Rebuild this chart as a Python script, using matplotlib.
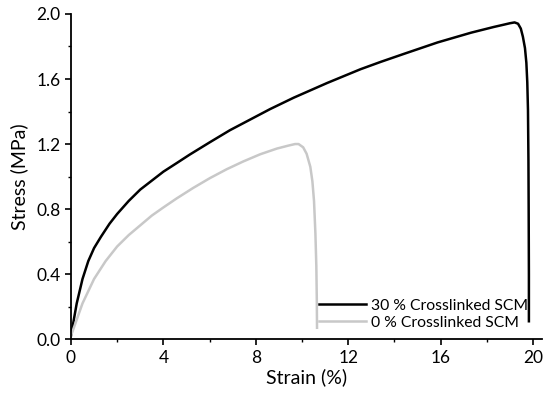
import matplotlib
matplotlib.use("Agg")
import matplotlib.pyplot as plt
from matplotlib.ticker import MultipleLocator

plt.rcParams["font.family"] = ["Lato", "DejaVu Sans"]

# 30 % crosslinked SCM (strain %, stress MPa)
strain_30 = [0.0, 0.1, 0.25, 0.5, 0.75, 1.0, 1.3, 1.67, 2.0, 2.5, 3.0, 3.5,
             4.0, 4.6, 5.14, 6.0, 6.88, 7.75, 8.62, 9.64, 11.08, 12.53, 13.4,
             14.42, 15.87, 17.32, 18.3, 18.76, 19.0, 19.2, 19.35, 19.47, 19.56,
             19.65, 19.71, 19.75, 19.78, 19.80, 19.81, 19.82, 19.82]
stress_30 = [0.02, 0.10, 0.22, 0.37, 0.48, 0.56, 0.63, 0.71, 0.77, 0.85, 0.92,
             0.975, 1.03, 1.085, 1.135, 1.21, 1.285, 1.35, 1.415, 1.485, 1.575,
             1.66, 1.705, 1.755, 1.825, 1.885, 1.92, 1.935, 1.943, 1.948, 1.94,
             1.91, 1.86, 1.79, 1.70, 1.58, 1.41, 1.10, 0.80, 0.40, 0.11]

# 0 % crosslinked SCM
strain_0 = [0.0, 0.25, 0.5, 1.0, 1.5, 2.0, 2.5, 3.0, 3.5, 4.0, 4.57, 5.29,
            6.01, 6.74, 7.46, 8.19, 8.91, 9.4, 9.7, 9.85, 10.05, 10.2, 10.36,
            10.45, 10.52, 10.58, 10.62, 10.64, 10.65]
stress_0 = [0.02, 0.12, 0.22, 0.37, 0.48, 0.57, 0.64, 0.70, 0.76, 0.81, 0.865,
            0.93, 0.99, 1.045, 1.093, 1.137, 1.172, 1.19, 1.20, 1.20, 1.18, 1.14,
            1.06, 0.97, 0.85, 0.65, 0.45, 0.25, 0.07]

fig = plt.figure(figsize=(5.5, 3.99), dpi=100)
ax = fig.add_axes([0.129, 0.150, 0.857, 0.815])

ax.plot(strain_30, stress_30, color="black", lw=1.8, label="30 % Crosslinked SCM")
ax.plot(strain_0, stress_0, color="#c8c8c8", lw=1.8, label="0 % Crosslinked SCM")

ax.set_xlim(0, 20.4)
ax.set_ylim(0, 2.0)
ax.xaxis.set_major_locator(MultipleLocator(4))
ax.xaxis.set_minor_locator(MultipleLocator(2))
ax.yaxis.set_major_locator(MultipleLocator(0.4))
ax.yaxis.set_minor_locator(MultipleLocator(0.2))
ax.yaxis.set_major_formatter(lambda v, p: f"{v:.1f}")

for s in ["top", "right"]:
    ax.spines[s].set_visible(False)
for s in ["left", "bottom"]:
    ax.spines[s].set_linewidth(1.3)
ax.tick_params(which="major", direction="out", length=4, width=1.2, labelsize=12.5)
ax.tick_params(which="minor", direction="out", length=2.5, width=1.0)

ax.set_xlabel("Strain (%)", fontsize=14, labelpad=2)
ax.set_ylabel("Stress (MPa)", fontsize=14, labelpad=6)

ax.legend(loc="lower right", bbox_to_anchor=(0.99, 0.0), frameon=False,
          fontsize=11.3, handlelength=3.0, handletextpad=0.3, labelspacing=0.2,
          borderaxespad=0.2)

fig.savefig("out.png", dpi=100)
